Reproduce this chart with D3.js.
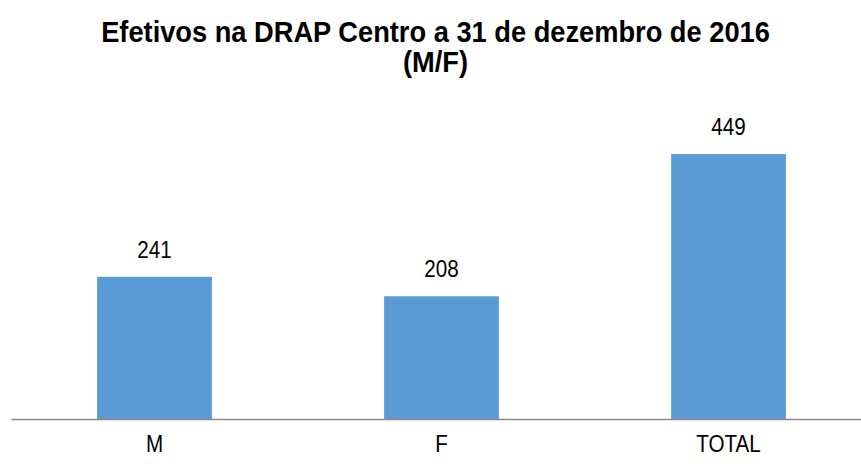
<!DOCTYPE html>
<html>
<head>
<meta charset="utf-8">
<script src="https://cdn.jsdelivr.net/npm/d3@7"></script>
<style>
  body { margin: 0; background: #fff; }
  text { font-family: "Liberation Sans Narrow", "Liberation Sans", Arial, sans-serif; }
</style>
</head>
<body>
<svg id="chart"></svg>
<script>
let categories = ["M", "F", "TOTAL"];
let values = [241, 208, 449];
let titleLines = ["Efetivos na DRAP Centro a 31 de dezembro de 2016", "(M/F)"];

let width = 861;
let height = 464;
let padding = { left: 11, right: -11, bottom: 45, top: 124 };
let narrow = 0.86;   // squeeze text like a condensed font

let svg = d3.select("#chart")
    .attr("width", width)
    .attr("height", height);

let xScale = d3.scaleBand()
    .domain(categories)
    .range([padding.left, width - padding.right])
    .paddingInner(0.6)
    .paddingOuter(0.3);

let yScale = d3.scaleLinear()
    .domain([0, 500])
    .range([height - padding.bottom, padding.top]);

let data = categories.map((c, i) => ({ cat: c, value: values[i] }));

svg.selectAll(".bar")
    .data(data)
    .enter()
    .append("rect")
      .classed("bar", true)
      .attr("x", d => xScale(d.cat))
      .attr("width", xScale.bandwidth())
      .attr("y", d => yScale(d.value))
      .attr("height", d => yScale(0) - yScale(d.value))
      .attr("fill", "#5b9bd5");

// baseline + category labels
let xAxis = d3.axisBottom(xScale).tickSize(0).tickPadding(0);
let axisG = svg.append("g")
    .attr("transform", "translate(0," + yScale(0) + ")")
    .call(xAxis);
axisG.select(".domain")
    .attr("stroke", "#898989")
    .attr("stroke-width", 1.5);
axisG.selectAll(".tick text")
    .attr("y", 0)
    .attr("dy", 0)
    .attr("transform", "translate(0,33) scale(" + narrow + ",1)")
    .attr("font-size", "24px")
    .attr("fill", "#000");

svg.selectAll(".val")
    .data(data)
    .enter()
    .append("text")
      .classed("val", true)
      .attr("transform", d => "translate(" + (xScale(d.cat) + xScale.bandwidth() / 2) + "," + (yScale(d.value) - 19) + ") scale(" + narrow + ",1)")
      .attr("text-anchor", "middle")
      .attr("font-size", "24px")
      .attr("fill", "#000")
      .text(d => d.value);

svg.selectAll(".title")
    .data(titleLines)
    .enter()
    .append("text")
      .classed("title", true)
      .attr("transform", (d, i) => "translate(435.5," + (42 + i * 30) + ") scale(0.94,1)")
      .attr("text-anchor", "middle")
      .attr("font-size", "29px")
      .attr("font-weight", "bold")
      .attr("fill", "#000")
      .text(d => d);
</script>
</body>
</html>
